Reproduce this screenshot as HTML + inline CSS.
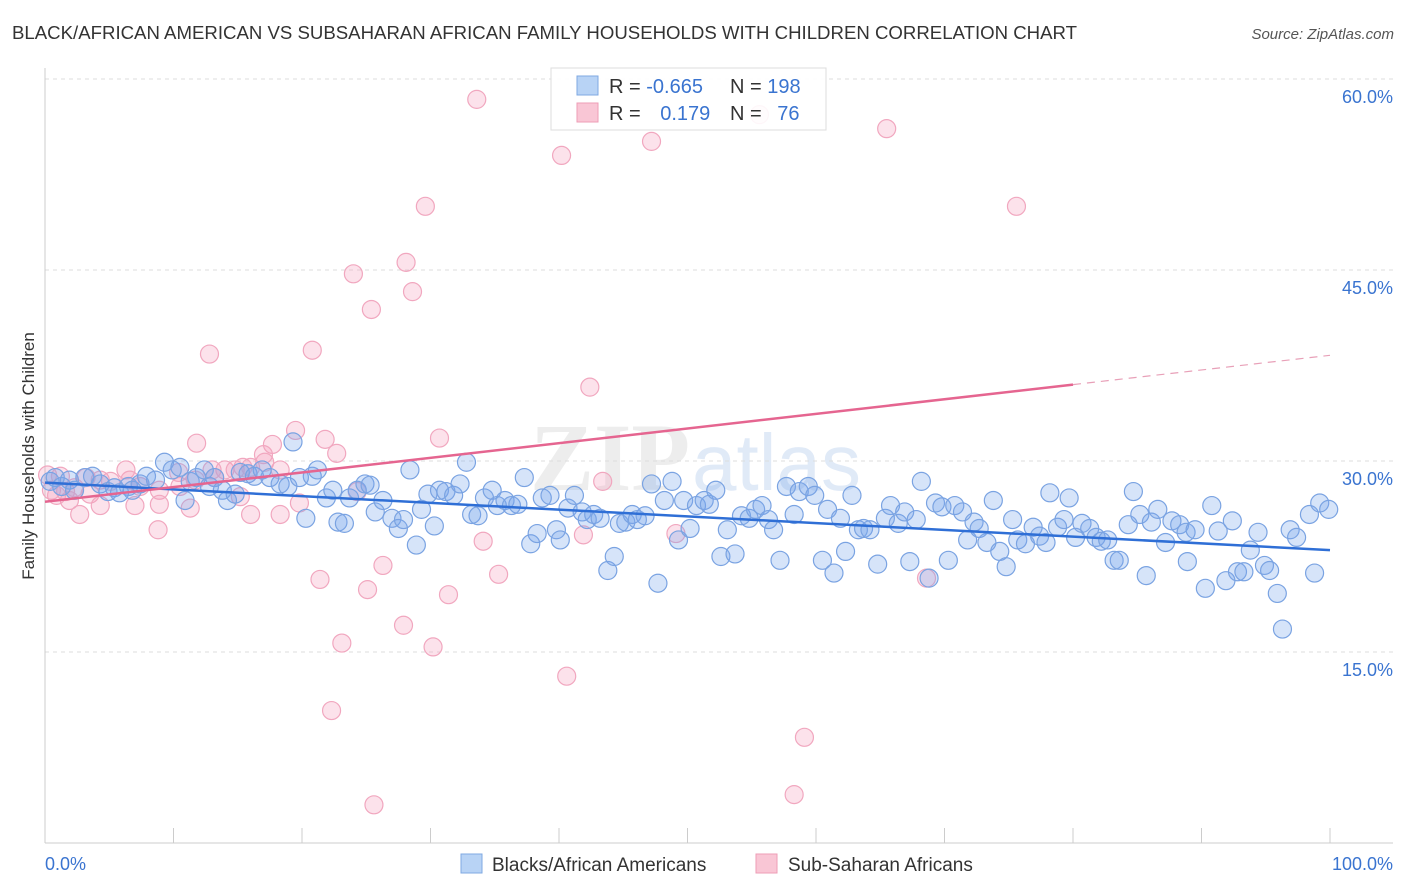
<!DOCTYPE html>
<html><head><meta charset="utf-8"><style>
body{margin:0;background:#fff;font-family:"Liberation Sans",sans-serif;}
#c{position:relative;width:1406px;height:892px;overflow:hidden;}
</style></head><body>
<div id="c">
<svg id="s" width="1406" height="892" xmlns="http://www.w3.org/2000/svg">
<text x="12" y="39" font-size="18" fill="#333" textLength="1065" lengthAdjust="spacingAndGlyphs">BLACK/AFRICAN AMERICAN VS SUBSAHARAN AFRICAN FAMILY HOUSEHOLDS WITH CHILDREN CORRELATION CHART</text>
<text x="1394" y="39" font-size="15" fill="#555" font-style="italic" text-anchor="end">Source: ZipAtlas.com</text>
<text x="690" y="490" font-size="96" fill="#ccc" opacity="0.35" font-family="Liberation Serif" text-anchor="end" font-weight="bold">ZIP</text>
<text x="692" y="490" font-size="80" fill="#a9c4ea" opacity="0.35">atlas</text>
<g id="grid"></g><g id="pts"></g><g id="trend"></g>
<text transform="translate(34,456) rotate(-90)" font-size="17" fill="#333" text-anchor="middle">Family Households with Children</text>
<g>
<rect x="551" y="68" width="275" height="62" fill="#fff" fill-opacity="0.9" stroke="#ddd"/>
<rect x="577" y="76" width="21" height="19" fill="#b8d3f5" stroke="#7fa8e2"/>
<rect x="577" y="103" width="21" height="19" fill="#f9c6d5" stroke="#ee9db6"/>
<text x="609" y="93" font-size="20" fill="#333">R = <tspan fill="#3a74d0">-0.665</tspan></text>
<text x="730" y="93" font-size="20" fill="#333">N = <tspan fill="#3a74d0">198</tspan></text>
<text x="609" y="120" font-size="20" fill="#333">R = <tspan fill="#3a74d0" dx="14">0.179</tspan></text>
<text x="730" y="120" font-size="20" fill="#333">N = <tspan fill="#3a74d0" dx="10">76</tspan></text>
</g>
<g>
<rect x="461" y="854" width="21" height="19" fill="#b8d3f5" stroke="#7fa8e2"/>
<text x="492" y="871" font-size="19" fill="#333">Blacks/African Americans</text>
<rect x="756" y="854" width="21" height="19" fill="#f9c6d5" stroke="#ee9db6"/>
<text x="788" y="871" font-size="19" fill="#333">Sub-Saharan Africans</text>
</g>
</svg></div>
<script>
const yTicks=[15,30,45,60];
const yTickLabels=["15.0%","30.0%","45.0%","60.0%"];
const xTickLabels=["0.0%","100.0%"];
const blueX=[0.4,0.8,1.3,1.9,2.3,3.1,3.7,4.3,4.9,5.4,5.8,6.5,6.8,7.4,7.9,8.6,9.3,9.9,10.5,10.9,11.3,11.8,12.4,12.8,13.2,13.8,14.2,14.8,15.2,15.8,16.3,16.9,17.5,18.3,18.9,19.3,19.8,20.3,20.8,21.2,21.9,22.4,22.8,23.3,23.7,24.3,24.9,25.3,25.7,26.3,27.0,27.5,27.9,28.4,28.9,29.3,29.8,30.3,30.7,31.2,31.8,32.3,32.8,33.2,33.7,34.2,34.8,35.2,35.8,36.3,36.8,37.3,37.8,38.3,38.7,39.3,39.8,40.1,40.7,41.2,41.8,42.2,42.7,43.2,43.8,44.3,44.7,45.2,45.7,46.1,46.7,47.2,47.7,48.2,48.8,49.3,49.7,50.2,50.7,51.3,51.7,52.2,52.6,53.1,53.7,54.2,54.8,55.3,55.8,56.3,56.7,57.2,57.7,58.3,58.7,59.4,59.9,60.5,60.9,61.4,61.9,62.3,62.8,63.3,63.7,64.2,64.8,65.4,65.8,66.4,66.9,67.3,67.8,68.2,68.8,69.3,69.8,70.3,70.8,71.4,71.8,72.3,72.7,73.3,73.8,74.3,74.8,75.3,75.7,76.3,76.9,77.4,77.9,78.2,78.8,79.3,79.7,80.2,80.7,81.3,81.8,82.2,82.7,83.2,83.6,84.3,84.7,85.2,85.7,86.1,86.6,87.2,87.7,88.3,88.8,88.9,89.5,90.3,90.8,91.3,91.9,92.4,92.8,93.3,93.8,94.4,94.9,95.3,95.9,96.3,96.9,97.4,98.4,98.8,99.2,99.9];
const blueY=[28.4,28.7,28.0,28.5,27.7,28.7,28.8,28.2,27.6,27.9,27.5,28.0,27.7,28.2,28.8,28.5,29.9,29.3,29.5,26.9,28.4,28.7,29.3,28.0,28.7,27.7,26.9,27.4,29.1,29.0,28.8,29.3,28.7,28.2,28.0,31.5,28.7,25.5,28.8,29.3,27.1,27.7,25.2,25.1,27.1,27.7,28.2,28.1,26.0,26.9,25.5,24.7,25.4,29.3,23.4,26.2,27.4,24.9,27.7,27.6,27.3,28.2,29.9,25.8,25.7,27.1,27.7,26.5,26.9,26.5,26.6,28.7,23.5,24.3,27.1,27.3,24.6,23.8,26.3,27.3,26.0,25.4,25.8,25.5,21.4,22.5,25.1,25.2,25.8,25.4,25.7,28.2,20.4,26.9,28.4,23.8,26.9,24.7,26.5,26.9,26.6,27.7,22.5,24.6,22.7,25.7,25.5,26.2,26.5,25.4,24.6,22.2,28.0,25.8,27.6,28.0,27.3,22.2,26.2,21.2,25.5,22.9,27.3,24.6,24.7,24.6,21.9,25.5,26.5,25.1,26.0,22.1,25.4,28.4,20.8,26.7,26.4,22.2,26.5,26.0,23.8,25.2,24.7,23.6,26.9,22.9,21.7,25.4,23.8,23.5,24.8,24.1,23.6,27.5,24.8,25.4,27.1,24.0,25.1,24.7,24.0,23.7,23.8,22.2,22.2,25.0,27.6,25.8,21.0,25.2,26.2,23.6,25.3,25.0,24.4,22.1,24.6,20.0,26.5,24.5,20.6,25.3,21.3,21.3,23.0,24.4,21.8,21.4,19.6,16.8,24.6,24.0,25.8,21.2,26.7,26.2];
const pinkX=[33.6,40.2,47.2,55.6,65.5,75.6,29.6,28.1,24.0,28.6,25.4,20.8,12.8,42.4,30.7,21.8,19.5,17.7,11.8,22.7,17.0,15.4,14.0,13.0,10.4,6.3,4.3,3.2,1.2,0.2,0.5,1.6,2.3,3.5,5.1,7.4,8.9,10.5,11.7,13.2,14.8,16.0,17.1,18.3,19.8,15.2,18.3,16.0,11.3,8.9,8.8,7.0,4.3,2.7,1.9,0.9,24.3,43.4,49.1,41.9,34.1,35.3,26.3,21.4,25.1,31.4,27.9,30.2,23.1,22.3,40.6,59.1,58.3,25.6,68.6,6.6];
const pinkY=[58.4,54.0,55.1,57.2,56.1,50.0,50.0,45.6,44.7,43.3,41.9,38.7,38.4,35.8,31.8,31.7,32.4,31.3,31.4,30.6,30.5,29.5,29.3,29.3,29.1,29.3,28.5,28.7,28.8,28.9,27.7,27.6,27.9,27.4,28.4,28.0,27.7,28.0,28.5,28.7,29.3,29.5,29.9,29.3,26.7,27.2,25.8,25.8,26.3,26.6,24.6,26.5,26.5,25.8,26.9,27.3,27.6,28.4,24.3,24.2,23.7,21.1,21.8,20.7,19.9,19.5,17.1,15.4,15.7,10.4,13.1,8.3,3.8,3.0,20.8,28.5];
const blueTrend=[[0,28.3],[100,23.0]];
const pinkTrend=[[0,26.8],[80,36.0],[100,38.3]];

const NS="http://www.w3.org/2000/svg";
const X0=45,X1=1330,Ybase=843;
function sx(v){return X0+(X1-X0)*v/100;}
function sy(v){return Ybase-v*(Ybase-79)/60;}
function mk(t,a,p){const e=document.createElementNS(NS,t);for(const k in a)e.setAttribute(k,a[k]);p.appendChild(e);return e;}
const grid=document.getElementById('grid');
yTicks.forEach((t,i)=>{
  const l=mk('line',{x1:X0,x2:1393,y1:sy(t),y2:sy(t),stroke:'#ddd','stroke-dasharray':'4,4'},grid);
  
  
  const tx=mk('text',{x:1393,y:sy(t)+24,'font-size':18,fill:'#3a74d0','text-anchor':'end'},grid);
  tx.textContent=yTickLabels[i];
  
  
});
const ax=mk('line',{x1:X0,x2:X0,y1:68,y2:Ybase,stroke:'#ccc'},grid);


const bx=mk('line',{x1:X0,x2:1393,y1:Ybase,y2:Ybase,stroke:'#ccc'},grid);


for(let i=0;i<=10;i++){
  const t=mk('line',{x1:sx(i*10),x2:sx(i*10),y1:828,y2:Ybase,stroke:'#ccc'},grid);
  
  
}
[[0,'start',45],[100,'end',1393]].forEach((d,i)=>{
  const tx=mk('text',{x:d[2],y:870,'font-size':18,fill:'#3a74d0','text-anchor':d[1]},grid);
  tx.textContent=xTickLabels[i];
  
  
});
const pts=document.getElementById('pts');
pinkX.forEach((x,i)=>{
  const c=mk('circle',{cx:sx(x),cy:sy(pinkY[i]),r:9,fill:'rgba(244,160,188,0.3)',stroke:'#f1a7bf','stroke-width':1.2},pts);
  
  
});
blueX.forEach((x,i)=>{
  const c=mk('circle',{cx:sx(x),cy:sy(blueY[i]),r:9,fill:'rgba(120,165,235,0.3)',stroke:'#7aa3e2','stroke-width':1.2},pts);
  
  
});
const tr=document.getElementById('trend');
const b=mk('line',{x1:sx(blueTrend[0][0]),y1:sy(blueTrend[0][1]),x2:sx(blueTrend[1][0]),y2:sy(blueTrend[1][1]),stroke:'#2f6fd6','stroke-width':2.5},tr);


const p1=mk('line',{x1:sx(pinkTrend[0][0]),y1:sy(pinkTrend[0][1]),x2:sx(pinkTrend[1][0]),y2:sy(pinkTrend[1][1]),stroke:'#e56590','stroke-width':2.5},tr);


const p2=mk('line',{x1:sx(pinkTrend[1][0]),y1:sy(pinkTrend[1][1]),x2:sx(pinkTrend[2][0]),y2:sy(pinkTrend[2][1]),stroke:'#e8a0b8','stroke-width':1.2,'stroke-dasharray':'8,6'},tr);


</script>
</body></html>
